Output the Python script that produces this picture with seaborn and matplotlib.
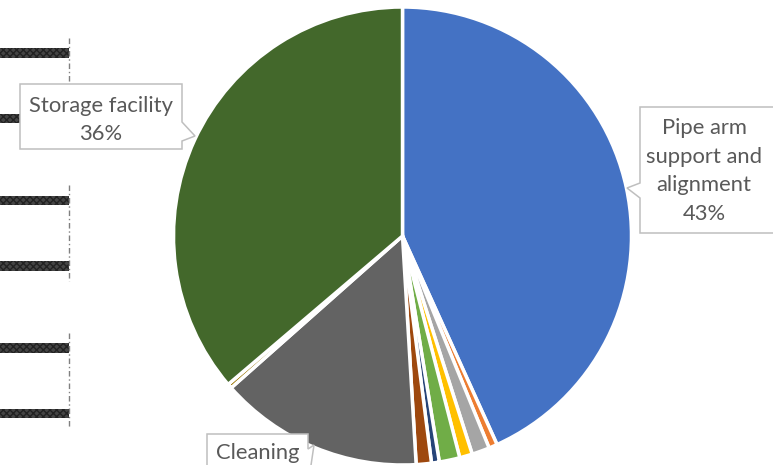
import textwrap

import matplotlib
matplotlib.use("Agg")
import matplotlib.pyplot as plt
from matplotlib.patches import Polygon
from matplotlib.transforms import Affine2D
import pandas as pd
import seaborn as sns

# Share of findings per work area (%)
categories = [
    "Pipe arm support and alignment", "Flange bolting", "Hose connection",
    "Valve operation", "Leak inspection", "Grounding", "Drain handling",
    "Cleaning", "Labelling", "Storage facility",
]
shares = [43.2, 0.6, 1.25, 0.9, 1.45, 0.55, 1.07, 14.4, 0.32, 36.2]
slice_colors = [
    "#4472C4", "#ED7D31", "#A5A5A5", "#FFC000", "#70AD47",
    "#264478", "#9E480E", "#636363", "#997300", "#43682B",
]

# Side panel: task bars running up to a common deadline
task_rows = [0, 1, 2.25, 3.25, 4.5, 5.5]
task_end = [10, 10, 10, 10, 10, 10]
deadline = 10
deadline_groups = [(0, 1), (2.25, 3.25), (4.5, 5.5)]

W, H = 773, 465
sns.set_theme(style="white")
plt.rcParams["font.family"] = ["Lato", "DejaVu Sans"]

fig = plt.figure(figsize=(W / 100, H / 100), dpi=100)
fig.patch.set_facecolor("white")

# ---- pie ----
R = 229.0
cx, cy = 402.5, 236.0
ax = fig.add_axes([0, 0, 1, 1])
ax.pie(
    shares, colors=slice_colors, startangle=90, counterclock=False, radius=1,
    wedgeprops=dict(edgecolor="white", linewidth=2.5),
)
ax.set_xlim(-cx / R, (W - cx) / R)
ax.set_ylim(-(H - cy) / R, cy / R)
ax.set_aspect("auto")
ax.axis("off")

# ---- side task bars ----
ax2 = fig.add_axes([-30 / W, 0, 99 / W, 1])
tasks = pd.DataFrame({"row": task_rows, "end": task_end})
sns.barplot(
    data=tasks, x="end", y="row", orient="h", native_scale=True, width=0.145,
    color="#454545", saturation=1, ax=ax2, hatch="xxxxx",
    edgecolor="#222222", linewidth=0,
)
for top, bottom in deadline_groups:
    ax2.vlines(deadline, top - 0.23, bottom + 0.23, colors="#808080",
               linewidth=1, linestyles=(0, (4, 2, 1, 2)), clip_on=False)
ax2.set_xlim(0, deadline)
ax2.set_ylim(6.29, -0.809)
ax2.axis("off")

# ---- callout labels ----
T = Affine2D().scale(1 / W, -1 / H).translate(0, 1) + fig.transFigure
total = sum(shares)
callouts = {
    "Pipe arm support and alignment": dict(
        wrap=11, show_pct=True, text_at=(704, 171), va="center",
        outline=[(640, 107), (778, 107), (778, 233), (640, 233),
                 (640, 198), (627, 188), (640, 183)]),
    "Storage facility": dict(
        wrap=20, show_pct=True, text_at=(101, 120), va="center",
        outline=[(20, 84), (182, 84), (182, 122), (195, 136),
                 (182, 141), (182, 149), (20, 149)]),
    # this box runs past the bottom edge; only its first line is in view
    "Cleaning": dict(
        wrap=20, show_pct=False, text_at=(258, 459), va="baseline",
        outline=[(207, 434), (308, 434), (308, 449), (314, 445),
                 (310, 472), (207, 472)]),
}
for name, spec in callouts.items():
    pct = shares[categories.index(name)] / total * 100
    label = textwrap.fill(name, spec["wrap"])
    if spec["show_pct"]:
        label += f"\n{pct:.0f}%"
    fig.add_artist(Polygon(spec["outline"], closed=True, transform=T,
                           facecolor="white", edgecolor="#BFBFBF",
                           linewidth=1.1, zorder=5))
    tx, ty = spec["text_at"]
    fig.text(tx / W, 1 - ty / H, label, ha="center", va=spec["va"],
             multialignment="center", fontsize=15.8, color="#595959",
             linespacing=1.55, zorder=6)

fig.savefig("out.png", dpi=100)
